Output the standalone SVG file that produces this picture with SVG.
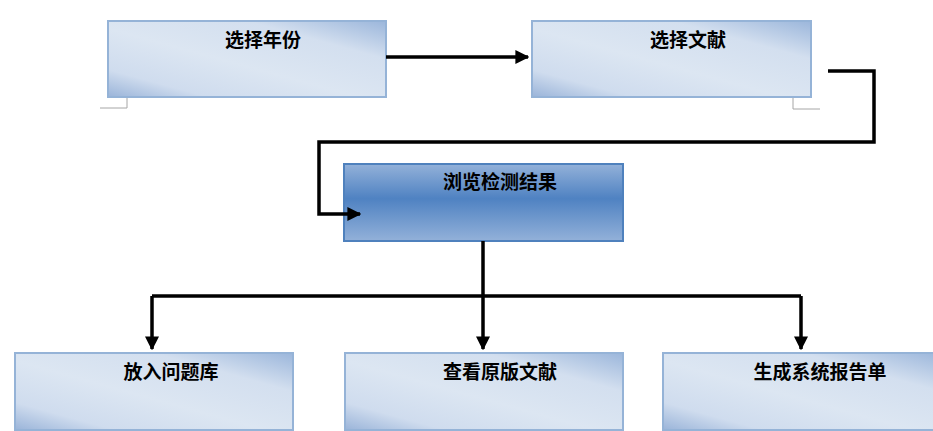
<svg xmlns="http://www.w3.org/2000/svg" width="933" height="431" viewBox="0 0 933 431">
<defs>
<linearGradient id="light" x1="0" y1="1" x2="1" y2="0">
<stop offset="0" stop-color="#9ab4d9"/>
<stop offset="0.18" stop-color="#cfdcee"/>
<stop offset="0.45" stop-color="#dce6f2"/>
<stop offset="0.75" stop-color="#d3dfef"/>
<stop offset="1" stop-color="#9bb6db"/>
</linearGradient>
<linearGradient id="dark" x1="0" y1="0" x2="0" y2="1">
<stop offset="0" stop-color="#93b1d9"/>
<stop offset="0.45" stop-color="#4f82c2"/>
<stop offset="1" stop-color="#93b1d9"/>
</linearGradient>
<marker id="ah" viewBox="0 0 10 10" refX="9" refY="5" markerWidth="4" markerHeight="4" orient="auto" markerUnits="strokeWidth">
<path d="M0,0 L10,5 L0,10 z" fill="#000"/>
</marker>
<style>
.lb{fill:url(#light);stroke:#95b3d7;stroke-width:2}
.db{fill:url(#dark);stroke:#4f81bd;stroke-width:2}
.t{font-family:"Noto Sans CJK SC","Noto Sans CJK JP",sans-serif;font-size:19px;font-weight:bold;fill:#000;text-anchor:middle}
.c{fill:none;stroke:#000;stroke-width:3.5}
.g{fill:none;stroke:#a6a6a6;stroke-width:1}
</style>
</defs>
<g id="n1">
<rect class="lb" x="108" y="21" width="278" height="76"/>
<text class="t" x="263" y="47">选择年份</text>
<path class="g" d="M100,108 H127 V98"/>
</g>
<g id="n2">
<rect class="lb" x="532" y="21" width="279" height="76"/>
<text class="t" x="688" y="47">选择文献</text>
<path class="g" d="M793,98 V109 H820"/>
</g>
<g id="n3">
<rect class="db" x="344" y="164" width="279" height="77"/>
<text class="t" x="500" y="189">浏览检测结果</text>
</g>
<g id="n4">
<rect class="lb" x="15" y="353" width="278" height="77"/>
<text class="t" x="171" y="379">放入问题库</text>
</g>
<g id="n5">
<rect class="lb" x="345" y="353" width="278" height="77"/>
<text class="t" x="500" y="379">查看原版文献</text>
</g>
<g id="n6">
<rect class="lb" x="663" y="353" width="278" height="77"/>
<text class="t" x="820" y="379">生成系统报告单</text>
</g>
<g id="connectors">
<path class="c" d="M386,57 H528" marker-end="url(#ah)"/>
<path class="c" d="M828,71 H874 V142 H319 V214 H360" marker-end="url(#ah)"/>
<path class="c" d="M483,241 V296"/>
<path class="c" d="M152,296 H801"/>
<path class="c" d="M152,296 V349" marker-end="url(#ah)"/>
<path class="c" d="M483,296 V349" marker-end="url(#ah)"/>
<path class="c" d="M801,296 V349" marker-end="url(#ah)"/>
</g>
</svg>
